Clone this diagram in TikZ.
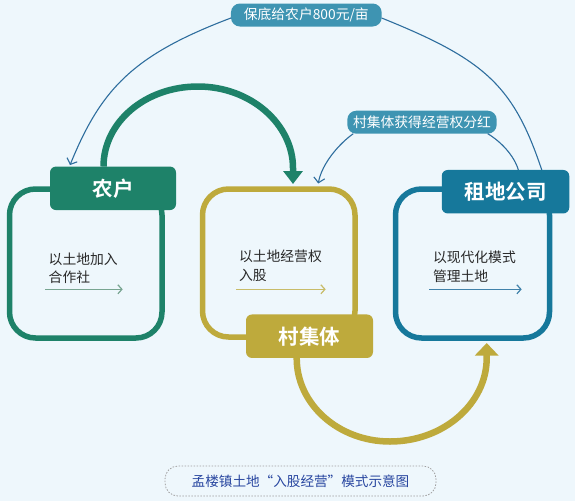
\documentclass[tikz,border=0pt]{standalone}
\usepackage{fontspec}
\setmainfont{Noto Sans CJK SC}[BoldFont={Noto Sans CJK SC Bold}]
\usetikzlibrary{arrows.meta,calc}
\definecolor{bg}{RGB}{238,247,252}
\definecolor{cgreen}{RGB}{30,130,105}
\definecolor{cgold}{RGB}{190,170,60}
\definecolor{cblue}{RGB}{22,120,155}
\definecolor{clab}{RGB}{62,148,178}
\definecolor{cthin}{RGB}{46,110,158}
\definecolor{ctext}{RGB}{40,40,40}
\definecolor{ccap}{RGB}{40,70,160}
\definecolor{ag}{RGB}{120,165,145}
\definecolor{ay}{RGB}{200,188,105}
\definecolor{ab}{RGB}{65,130,170}
\begin{document}
\begin{tikzpicture}[x=1pt,y=-1pt,
  box/.style={draw, line width=5.5pt, rounded corners=26pt, outer sep=0pt, inner sep=0pt},
  head/.style={rounded corners=6pt, outer sep=0pt, inner sep=0pt, text=white, font=\fontsize{20.5}{24}\selectfont\bfseries, minimum height=43.5pt},
  lab/.style={fill=clab, rounded corners=9pt, outer sep=0pt, inner sep=0pt, text=white, font=\fontsize{13.8}{16}\selectfont, minimum height=23pt},
  body/.style={anchor=west, align=left, inner sep=0pt, text=ctext, font=\fontsize{13.8}{18.3}\selectfont},
  thin/.style={draw=cthin, line width=1.1pt},
  thinarrow/.style={thin, -{Straight Barb[length=5pt,width=11pt]}},
  inarrow/.style={line width=1.2pt, -{Straight Barb[length=4pt,width=9pt]}},
  thick/.style={line width=6.5pt},
]
\fill[bg] (0,0) rectangle (575,501);
\useasboundingbox (0,0) rectangle (575,501);

% boxes
\node[box, draw=cgreen, minimum width=152.5pt, minimum height=149pt] (farmbox) at (85.75,263.5) {};
\node[box, draw=cgold, minimum width=152.5pt, minimum height=148pt] (midbox) at (278.75,263) {};
\node[box, draw=cblue, minimum width=154pt, minimum height=149pt] (compbox) at (472.5,263.5) {};

% header positions (drawn later)
\path (113,188.3) coordinate (farmheadc) (309.5,336.2) coordinate (villheadc) (505.5,191.7) coordinate (compheadc);
\node[head, minimum width=126pt] (farmhead) at (farmheadc) {};
\node[head, minimum width=127pt] (villhead) at (villheadc) {};
\node[head, minimum width=127.5pt] (comphead) at (compheadc) {};

% thick arcs
\draw[thick, draw=cgreen, -{Triangle[width=19pt,length=13pt]}]
  ([xshift=-9.5pt]farmhead.north) .. controls (103.5,122) and (145.5,86.5) .. (198,86.5)
  .. controls (250.5,86.5) and (293,124) .. (293,168) -- ([xshift=14.25pt,yshift=5pt]midbox.north);
\draw[thick, draw=cgold, -{Triangle[width=23pt,length=12.5pt]}]
  ([xshift=-12.8pt]villhead.south) .. controls (296.5,404.1) and (338.4,441.5) .. (390,441.5)
  .. controls (443.4,441.5) and (486.7,403.7) .. (486.7,358) -- ([xshift=14.2pt,yshift=-5pt]compbox.south);

% headers
\node[head, fill=cgreen, minimum width=126pt] at (farmheadc) {农户};
\node[head, fill=cgold, minimum width=127pt] at (villheadc) {村集体};
\node[head, fill=cblue, minimum width=127.5pt] at (compheadc) {租地公司};

% labels
\node[lab, minimum width=150.7pt] (lab1) at (306.3,15) {保底给农户800元/亩};
\node[lab, minimum width=149.4pt] (lab2) at (422,122.2) {村集体获得经营权分红};

% thin arcs
\draw[thinarrow] ([yshift=-3pt]lab1.west) .. controls (133,55) and (101,89) .. ([xshift=20pt,yshift=1.5pt]farmhead.north west);
\draw[thin] ([yshift=-3pt]lab1.east) .. controls (484,59.3) and (513.3,84.6) .. ([xshift=100pt]comphead.north west);
\draw[thinarrow] ([xshift=6pt]lab2.south west) .. controls (340,143) and (322,163) .. ([xshift=39.5pt,yshift=5.5pt]midbox.north);
\draw[thin] ([xshift=-9pt]lab2.south east) .. controls (500,141) and (514,155) .. ([xshift=76.6pt]comphead.north west);

% body texts
\node[body] (t1) at (48.5,268.2) {以土地加入\\合作社};
\node[body] (t2) at (238.8,265.8) {以土地经营权\\入股};
\node[body] (t3) at (432.8,266.8) {以现代化模式\\管理土地};

% inner arrows
\coordinate (a1s) at (45,289.3); \coordinate (a1e) at (122.7,289.3);
\coordinate (a2s) at (236,289.3); \coordinate (a2e) at (325.7,289.3);
\coordinate (a3s) at (429,289.3); \coordinate (a3e) at (521.7,289.3);
\draw[inarrow, draw=ag] (a1s) -- (a1e);
\draw[inarrow, draw=ay] (a2s) -- (a2e);
\draw[inarrow, draw=ab] (a3s) -- (a3e);

% caption
\node[draw=gray!75, line width=0.8pt, dash pattern=on 1.5pt off 1.5pt, rounded corners=13pt,
  minimum width=271pt, minimum height=30pt, inner sep=0pt, outer sep=0pt, text=ccap,
  font=\fontsize{13.6}{16}\selectfont] (cap) at (300.5,481) {孟楼镇土地“入股经营”模式示意图};
\end{tikzpicture}
\end{document}
